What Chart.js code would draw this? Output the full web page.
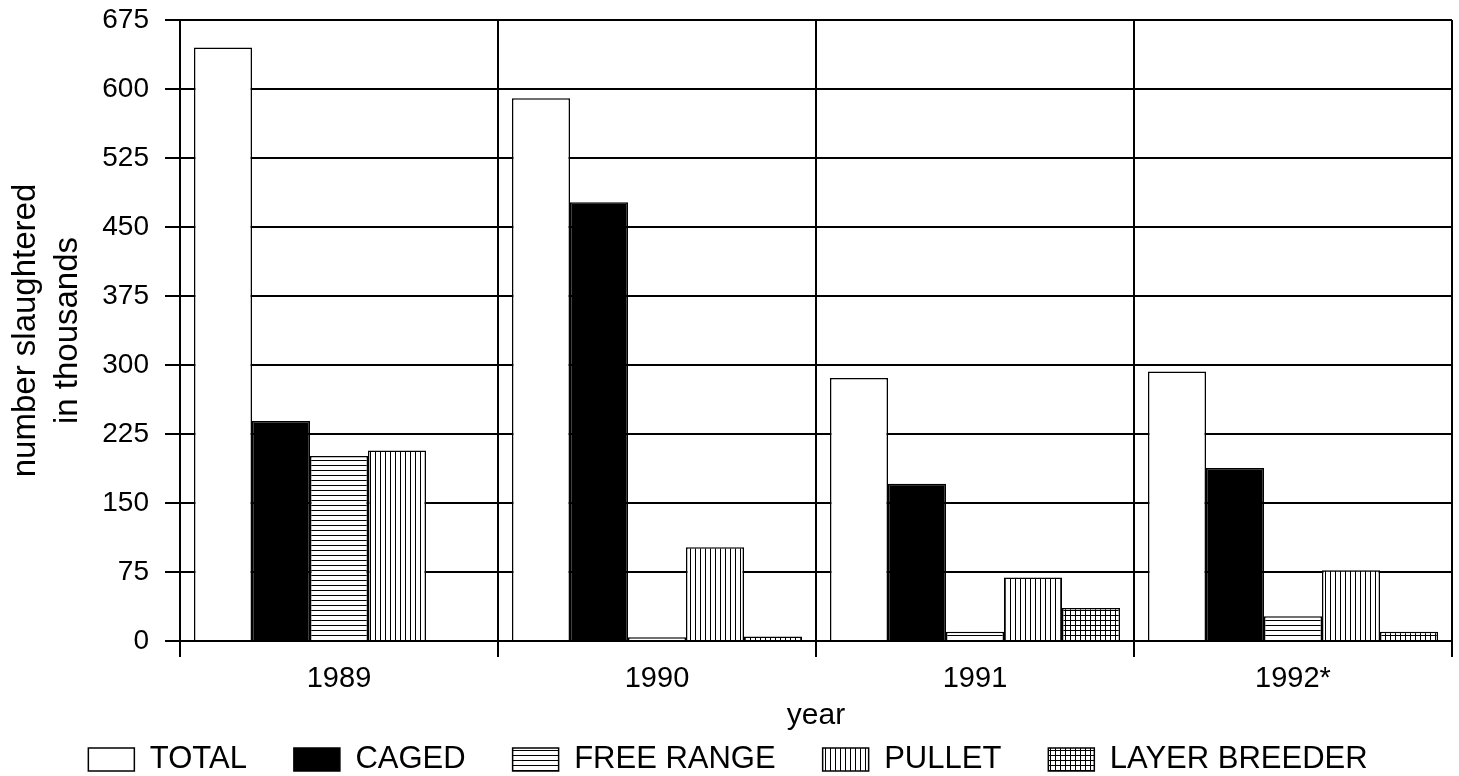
<!DOCTYPE html>
<html>
<head>
<meta charset="utf-8">
<script src="https://cdn.jsdelivr.net/npm/chart.js@4.4.0/dist/chart.umd.min.js"></script>
<style>
  html, body { margin: 0; padding: 0; background: #fff; }
  #wrap { width: 1459px; height: 776px; position: relative; }
</style>
</head>
<body>
<div id="wrap"><canvas id="chart"></canvas></div>
<script>
// data (thousands)
const years = ['1989', '1990', '1991', '1992*'];
const seriesNames = ['TOTAL', 'CAGED', 'FREE RANGE', 'PULLET', 'LAYER BREEDER'];
const total = [645, 590, 286, 293];
const caged = [239, 477, 171, 188];
const freeRange = [201, 4, 10, 27];
const pullet = [207, 102, 69, 77];
const layerBreeder = [0, 5, 36, 10];
const yMin = 0, yMax = 675, yStep = 75;

const FONT = '"Liberation Sans", Arial, Helvetica, sans-serif';

// hatch fills like the old print
function makePattern(kind) {
    const s = 5;
    const c = document.createElement('canvas');
    c.width = s; c.height = s;
    const g = c.getContext('2d');
    g.fillStyle = '#fff';
    g.fillRect(0, 0, s, s);
    g.fillStyle = '#000';
    if (kind === 'h' || kind === 'grid') g.fillRect(0, 0, s, 1);
    if (kind === 'v' || kind === 'grid') g.fillRect(0, 0, 1, s);
    return g.createPattern(c, 'repeat');
}

const fills = ['#ffffff', '#000000', makePattern('h'), makePattern('v'), makePattern('grid')];
const values = [total, caged, freeRange, pullet, layerBreeder];

const datasets = seriesNames.map(function (name, i) {
    return {
        label: name,
        data: values[i],
        backgroundColor: fills[i],
        borderColor: '#000',
        borderWidth: 1.5,
        borderSkipped: 'bottom',
        categoryPercentage: 0.912,
        barPercentage: 1.0
    };
});

// legend sits lower than chart.js would put it, close under the axis title
const legendDrop = {
    id: 'legendDrop',
    afterLayout: function (chart) {
        const lg = chart.legend;
        if (!lg) return;
        lg.top = 697;
        lg.bottom = chart.height;
        lg.height = lg.bottom - lg.top;
    }
};

const ctx = document.getElementById('chart').getContext('2d');
const chart = new Chart(ctx, {
    type: 'bar',
    data: { labels: years, datasets: datasets },
    plugins: [legendDrop],
    options: {
        responsive: true,
        maintainAspectRatio: false,
        animation: false,
        layout: { padding: { left: 4, right: 7, top: 20, bottom: 0 } },
        plugins: {
            tooltip: { enabled: false },
            legend: {
                position: 'bottom',
                maxHeight: 40,
                labels: {
                    color: '#000',
                    font: { family: FONT, size: 31 },
                    boxWidth: 46,
                    boxHeight: 23,
                    padding: 47
                }
            }
        },
        scales: {
            x: {
                offset: true,
                grid: { offset: true, color: '#000', lineWidth: 2, tickLength: 16, tickColor: '#000' },
                border: { color: '#000', width: 2 },
                ticks: { color: '#000', font: { family: FONT, size: 29 }, padding: 5 },
                title: { display: true, text: 'year', color: '#000', font: { family: FONT, size: 30 }, padding: { top: 0, bottom: 2 } },
                afterFit: function (scale) { scale.height = 95; }
            },
            y: {
                min: yMin,
                max: yMax,
                ticks: { stepSize: yStep, color: '#000', font: { family: FONT, size: 28 }, padding: 16 },
                grid: { color: '#000', lineWidth: 2, tickLength: 15, tickColor: '#000' },
                border: { color: '#000', width: 2 },
                title: {
                    display: true,
                    text: ['number slaughtered', 'in thousands'],
                    color: '#000',
                    font: { family: FONT, size: 33, lineHeight: 1.3 },
                    padding: { top: 0, bottom: 4 }
                },
                afterFit: function (scale) {
                    scale.width = 176;
                    scale.paddingTop = 0;
                    scale.paddingBottom = 0;
                }
            }
        }
    }
});
</script>
</body>
</html>
